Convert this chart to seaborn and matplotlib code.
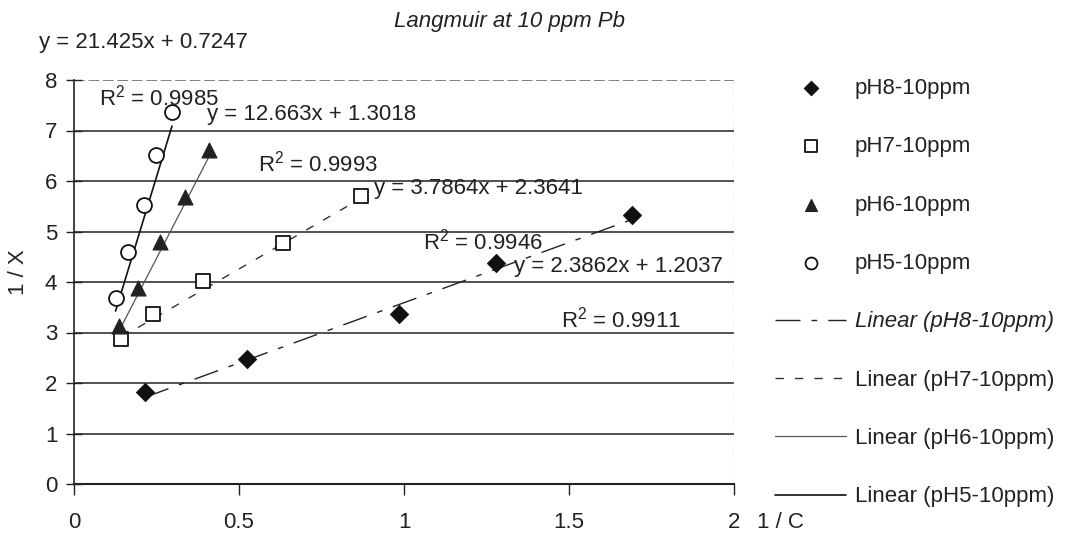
import matplotlib
matplotlib.use("Agg")
import matplotlib.pyplot as plt
import seaborn as sns
import numpy as np
import pandas as pd

# ---- data ----
series_names = ["pH8-10ppm", "pH7-10ppm", "pH6-10ppm", "pH5-10ppm"]
x_ph8 = [0.215, 0.525, 0.985, 1.278, 1.69]
y_ph8 = [1.82, 2.47, 3.36, 4.37, 5.33]
x_ph7 = [0.143, 0.240, 0.391, 0.633, 0.869]
y_ph7 = [2.88, 3.36, 4.02, 4.77, 5.70]
x_ph6 = [0.136, 0.194, 0.261, 0.336, 0.409]
y_ph6 = [3.13, 3.89, 4.79, 5.68, 6.61]
x_ph5 = [0.126, 0.165, 0.212, 0.249, 0.297]
y_ph5 = [3.68, 4.59, 5.53, 6.51, 7.37]
slopes = [2.3862, 3.7864, 12.663, 21.425]
intercepts = [1.2037, 2.3641, 1.3018, 0.7247]
r2_values = [0.9911, 0.9946, 0.9993, 0.9985]
x_ticks = [0, 0.5, 1, 1.5, 2]
y_ticks = [0, 1, 2, 3, 4, 5, 6, 7, 8]

xs = [x_ph8, x_ph7, x_ph6, x_ph5]
ys = [y_ph8, y_ph7, y_ph6, y_ph5]

sns.set_theme(style="white")
plt.rcParams["font.family"] = ["Liberation Sans", "DejaVu Sans"]
plt.rcParams["mathtext.fontset"] = "custom"
plt.rcParams["mathtext.rm"] = "Liberation Sans"
plt.rcParams["mathtext.it"] = "Liberation Sans:italic"

FS = 16

fig = plt.figure(figsize=(10.7, 5.56), dpi=100)
ax = fig.add_axes([74 / 1070, 1 - 484 / 556, 660 / 1070, 404 / 556])

marker_styles = [
    dict(marker="D", s=85, color="#111111", edgecolor="#111111"),
    dict(marker="s", s=100, facecolor="white", edgecolor="#111111", linewidth=1.3),
    dict(marker="^", s=115, color="#222222", edgecolor="#222222"),
    dict(marker="o", s=115, facecolor="white", edgecolor="#111111", linewidth=1.3),
]
line_styles = [
    dict(color="#222222", linewidth=1.0, dashes=(18, 8, 4, 8)),
    dict(color="#333333", linewidth=1.0, dashes=(6, 8)),
    dict(color="#555555", linewidth=0.9, dashes=""),
    dict(color="#111111", linewidth=1.2, dashes=""),
]

# gridlines
for yv in y_ticks[1:-1]:
    ax.axhline(yv, color="#333333", linewidth=1.2, zorder=0)
ax.axhline(8, color="#777777", linewidth=1.3, linestyle=(0, (6, 2)), zorder=0)

for i, name in enumerate(series_names):
    df = pd.DataFrame({"x": xs[i], "y": ys[i]})
    sns.scatterplot(data=df, x="x", y="y", ax=ax, label=name, zorder=3,
                    **marker_styles[i])

for i, name in enumerate(series_names):
    xr = np.array([min(xs[i]), max(xs[i])])
    dfl = pd.DataFrame({"x": xr, "y": slopes[i] * xr + intercepts[i]})
    st = dict(line_styles[i])
    dashes = st.pop("dashes")
    ls = "-" if dashes == "" else (0, dashes)
    sns.lineplot(data=dfl, x="x", y="y", ax=ax, label=f"Linear ({name})",
                 linestyle=ls, zorder=2, **st)

ax.set_xlim(0, 2)
ax.set_ylim(0, 8)
ax.set_xticks(x_ticks)
ax.set_xticklabels([f"{t:g}" for t in x_ticks])
ax.set_yticks(y_ticks)
ax.set_xlabel("")
ax.set_ylabel("")

for s in ["top", "right"]:
    ax.spines[s].set_visible(False)
ax.spines["left"].set_color("#222222")
ax.spines["bottom"].set_color("#222222")
ax.spines["left"].set_linewidth(1.2)
ax.spines["bottom"].set_linewidth(1.5)
ax.axvline(2, color="#bbbbbb", linewidth=1.0, linestyle=(0, (2, 2)), zorder=0)

ax.tick_params(axis="y", direction="inout", length=12, width=1, color="#222222",
               labelsize=FS, pad=6, left=True, labelcolor="#222222")
ax.tick_params(axis="x", direction="out", length=8, width=1, color="#222222",
               labelsize=FS, pad=12, bottom=True, labelcolor="#222222")

# equation / R2 annotations (data coords)
eq_pos = [(1.333, 4.20), (0.909, 5.75), (0.403, 7.20), (-0.106, 8.63)]
r2_pos = [(1.476, 3.10), (1.058, 4.65), (0.558, 6.18), (0.076, 7.50)]
for i in range(4):
    ax.text(eq_pos[i][0], eq_pos[i][1], f"y = {slopes[i]}x + {intercepts[i]}",
            fontsize=FS, ha="left", va="baseline", color="#222222", clip_on=False)
    ax.text(r2_pos[i][0], r2_pos[i][1], f"R$^2$ = {r2_values[i]}",
            fontsize=FS, ha="left", va="baseline", color="#222222", clip_on=False)

fig.text(510 / 1070, 1 - 22 / 556, "Langmuir at 10 ppm Pb", fontsize=FS,
         style="italic", ha="center", va="center", color="#222222")
fig.text(780 / 1070, 1 - 523 / 556, "1 / C", fontsize=FS, ha="center",
         va="center", color="#222222")
fig.text(18 / 1070, 1 - 272 / 556, "1 / X", fontsize=FS, ha="center",
         va="center", rotation=90, color="#222222")

handles, labels = ax.get_legend_handles_labels()
leg = ax.legend(handles, labels, loc="upper left",
                bbox_to_anchor=(775 / 1070, 1 - 78 / 556),
                bbox_transform=fig.transFigure, frameon=False, fontsize=FS,
                handlelength=3.2, handletextpad=0.4, labelspacing=1.68,
                borderpad=0, borderaxespad=0, markerscale=0.8)
for t in leg.get_texts():
    t.set_color("#222222")
leg.get_texts()[4].set_style("italic")

fig.savefig("out.png", dpi=100)
